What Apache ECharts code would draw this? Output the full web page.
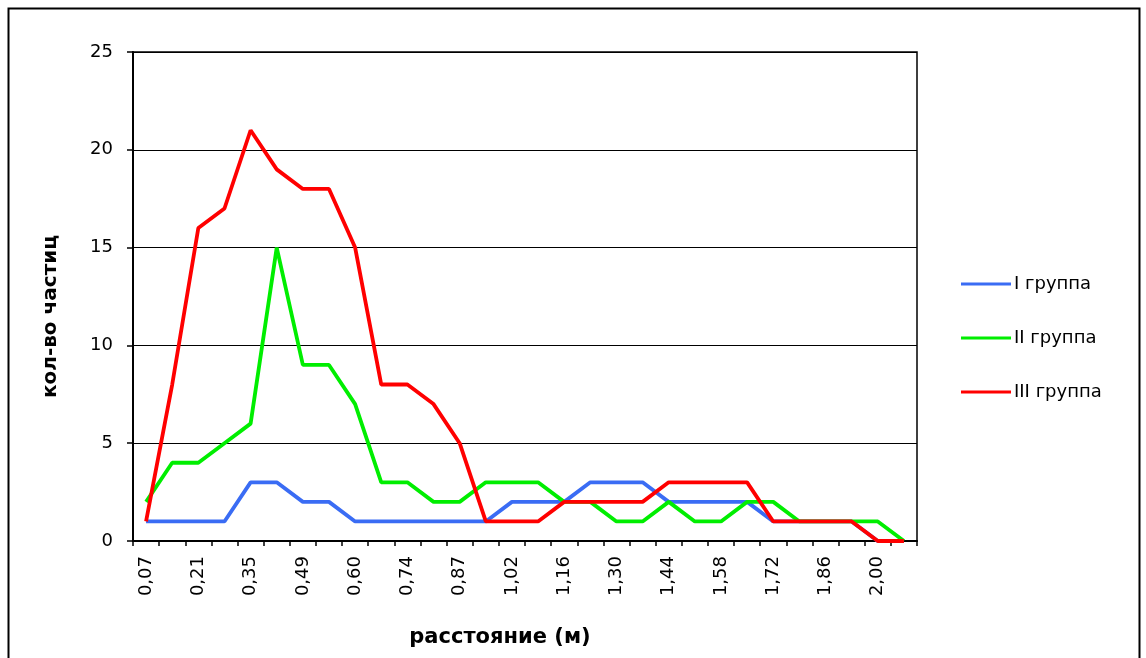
<!DOCTYPE html>
<html>
<head>
<meta charset="utf-8">
<script src="https://cdn.jsdelivr.net/npm/echarts@6/dist/echarts.min.js"></script>
<style>html,body{margin:0;padding:0;background:#fff;}#c{width:1146px;height:658px;}</style>
</head>
<body>
<div id="c"></div>
<script>
const categories = ['0,07','0,14','0,21','0,28','0,35','0,42','0,49','0,55','0,60','0,67','0,74','0,81','0,87','0,95','1,02','1,09','1,16','1,23','1,30','1,37','1,44','1,51','1,58','1,65','1,72','1,79','1,86','1,93','2,00','2,07'];
const group1 = [1,1,1,1,3,3,2,2,1,1,1,1,1,1,2,2,2,3,3,3,2,2,2,2,1,1,1,1,0,0];
const group2 = [2,4,4,5,6,15,9,9,7,3,3,2,2,3,3,3,2,2,1,1,2,1,1,2,2,1,1,1,1,0];
const group3 = [1,8,16,17,21,19,18,18,15,8,8,7,5,1,1,1,2,2,2,2,3,3,3,3,1,1,1,1,0,0];
const seriesNames = ['I группа','II группа','III группа'];
const yTicks = {min:0, max:25, interval:5};

const font = '"DejaVu Sans", "Liberation Sans", Arial, sans-serif';
const chart = echarts.init(document.getElementById('c'), null, {renderer:'canvas'});
function line(name, data, color){
  return {name, type:'line', data, symbol:'none', smooth:false,
    lineStyle:{color, width:3.8}, itemStyle:{color}, z:3};
}
chart.setOption({
  animation:false,
  backgroundColor:'#fff',
  graphic:[{type:'rect', shape:{x:8.5,y:8.5,width:1131,height:660}, style:{fill:'none', stroke:'#000', lineWidth:2}, silent:true}],
  grid:{left:133, top:52, right:229, bottom:117, show:true, borderColor:'#000', borderWidth:1.5, backgroundColor:'#fff', outerBoundsMode:'none', containLabel:false},
  legend:{orient:'vertical', left:956, top:270, itemGap:36, itemWidth:50, itemHeight:3, icon:'rect',
    textStyle:{fontFamily:font, fontSize:18, color:'#000', padding:[0,0,0,-2]},
    data:seriesNames},
  xAxis:{type:'category', data:categories, boundaryGap:true,
    name:'расстояние (м)', nameLocation:'middle', nameGap:86,
    nameTextStyle:{fontFamily:font, fontSize:21, fontWeight:'bold', color:'#000', padding:[0,50,0,0]},
    axisLine:{lineStyle:{color:'#000', width:2}},
    axisTick:{show:true, interval:0, length:5, lineStyle:{color:'#000', width:1.5}},
    axisLabel:{interval:1, rotate:90, fontFamily:font, fontSize:18, color:'#000', margin:15},
    splitLine:{show:false}},
  yAxis:{type:'value', min:yTicks.min, max:yTicks.max, interval:yTicks.interval,
    name:'кол-во частиц', nameLocation:'middle', nameGap:72,
    nameTextStyle:{fontFamily:font, fontSize:20, fontWeight:'bold', color:'#000', padding:[0,40,0,0]},
    axisLine:{show:true, lineStyle:{color:'#000', width:2}},
    axisTick:{show:true, length:6, lineStyle:{color:'#000', width:1.5}},
    axisLabel:{fontFamily:font, fontSize:18, color:'#000', margin:20},
    splitLine:{show:true, lineStyle:{color:'#000', width:1}}},
  series:[
    line(seriesNames[0], group1, '#3a6cf4'),
    line(seriesNames[1], group2, '#00ee00'),
    line(seriesNames[2], group3, '#ff0000')
  ]
});
</script>
</body>
</html>
